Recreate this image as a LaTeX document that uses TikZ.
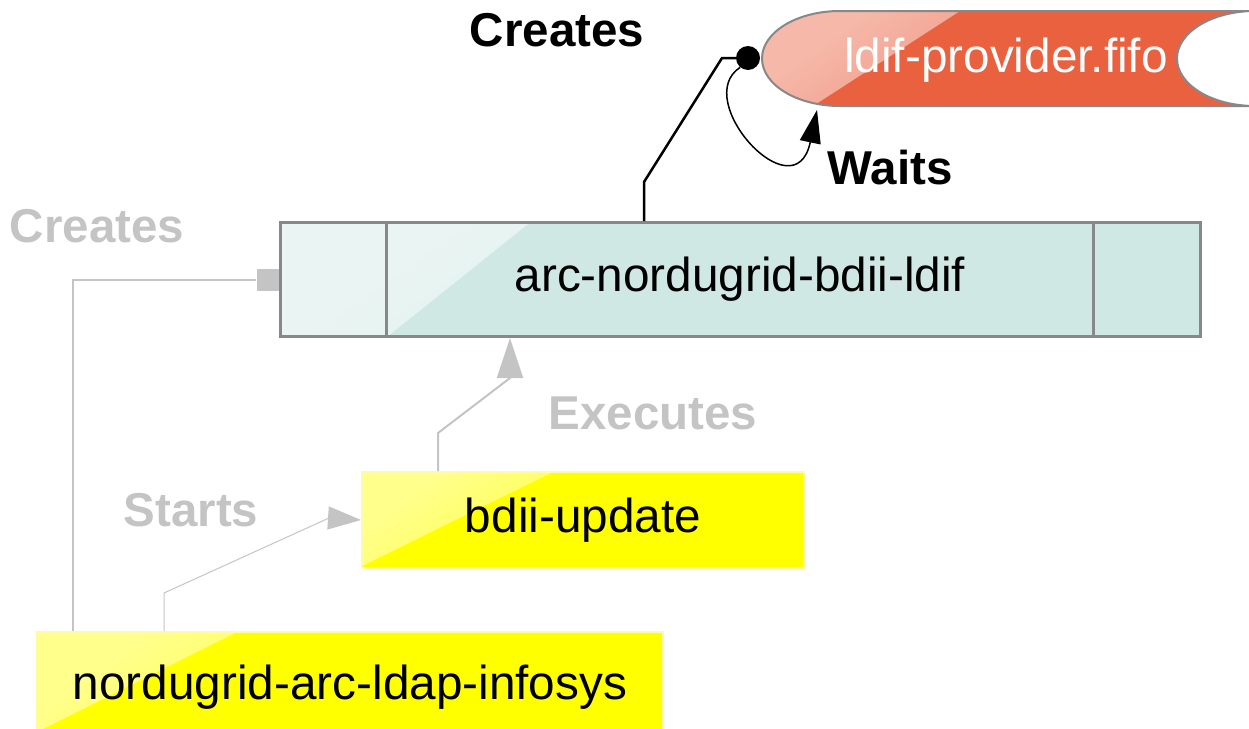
\documentclass[tikz,border=0pt]{standalone}
\usepackage{fontspec}
\setmainfont{Liberation Sans}
\usetikzlibrary{arrows.meta,positioning}

\definecolor{procfill}{RGB}{208,232,228}
\definecolor{procline}{RGB}{136,136,136}
\definecolor{fifofill}{RGB}{234,97,64}
\definecolor{taskfill}{RGB}{255,255,0}
\definecolor{faded}{RGB}{196,196,196}

\tikzset{
  bigtext/.style={font=\fontsize{47.7}{56}\selectfont},
  linklabel/.style={font=\fontsize{47.5}{56}\selectfont\bfseries},
  gloss/.style n args={3}{path picture={\shade[top color=#1!45!white, bottom color=#1, shading angle=35]
      (path picture bounding box.north west) -- ++(#2,0) -- ++(-#2,#3) -- cycle;}},
  procbox/.style={draw=procline, line width=3pt, fill=procfill, bigtext, inner sep=0pt},
  taskbox/.style={draw=yellow!35, line width=2pt, fill=taskfill, bigtext, inner sep=0pt},
  fadedlink/.style={faded, line width=#1},
}

\begin{document}
\begin{tikzpicture}[x=1pt, y=-1pt]
\useasboundingbox (0,0) rectangle (1249,728);

% Fifo
\filldraw[draw=procline, line width=2pt, fill=fifofill, gloss={fifofill}{198}{128}]
  (840,11) -- (1340,11) -- (1340,106) -- (840,106)
  arc[start angle=270, end angle=90, x radius=78pt, y radius=47.5pt] -- cycle;
\filldraw[draw=procline, line width=2pt, fill=white] (1255,58.5) ellipse [x radius=78pt, y radius=47.5pt];
\node[bigtext, text=white] (fifo) at (1006,60) {ldif-provider.fifo};
\node[circle, fill=black, minimum size=24pt, inner sep=0pt] (fifoin) at (748,58) {};

% Processes
\node[procbox, minimum width=920pt, minimum height=114pt, gloss={procfill}{250}{200}] (ldif) at (740,279.5) {arc-nordugrid-bdii-ldif};
\draw[procline, line width=3pt] ([xshift=108pt]ldif.north west) -- ([xshift=108pt]ldif.south west);
\draw[procline, line width=3pt] ([xshift=-108pt]ldif.north east) -- ([xshift=-108pt]ldif.south east);
\node[taskbox, minimum width=442pt, minimum height=96pt, gloss={taskfill}{191}{94}] (bdii) at (583,520) {bdii-update};
\node[taskbox, minimum width=626pt, minimum height=110pt, gloss={taskfill}{200}{100}] (infosys) at (350,687) {nordugrid-arc-ldap-infosys};
\node[fill=faded, minimum size=22pt, inner sep=0pt] (ldifin) at (267.5,280) {};

% Links
\draw[line width=2.5pt] ([xshift=-96pt]ldif.north) -- ++(0,-39) -- (722,58) -- (fifoin);
\draw[line width=1.5pt, -{Triangle[length=33pt, width=21pt]}] (fifoin.230) .. controls (690,100) and (795,215) .. (817,110);
\draw[fadedlink=1.5pt] ([xshift=-277pt]infosys.north) |- (ldifin);
\draw[fadedlink=1pt, -{Triangle[length=33pt, width=23pt]}] ([xshift=-186pt]infosys.north) -- ++(0,-38) -- (329,518) -- (bdii.west);
\draw[fadedlink=2pt, -{Triangle[length=40pt, width=26pt]}] ([xshift=-145pt]bdii.north) -- ++(0,-38) -- (510,378) -- ([xshift=-230pt]ldif.south);

% Labels
\node[linklabel] (creates) at (557,30) {Creates};
\node[linklabel] (waits) at (890,168) {Waits};
\node[linklabel, text=faded] (createsold) at (97,226) {Creates};
\node[linklabel, text=faded] (starts) at (191,510) {Starts};
\node[linklabel, text=faded] (executes) at (653,413) {Executes};

\end{tikzpicture}
\end{document}
